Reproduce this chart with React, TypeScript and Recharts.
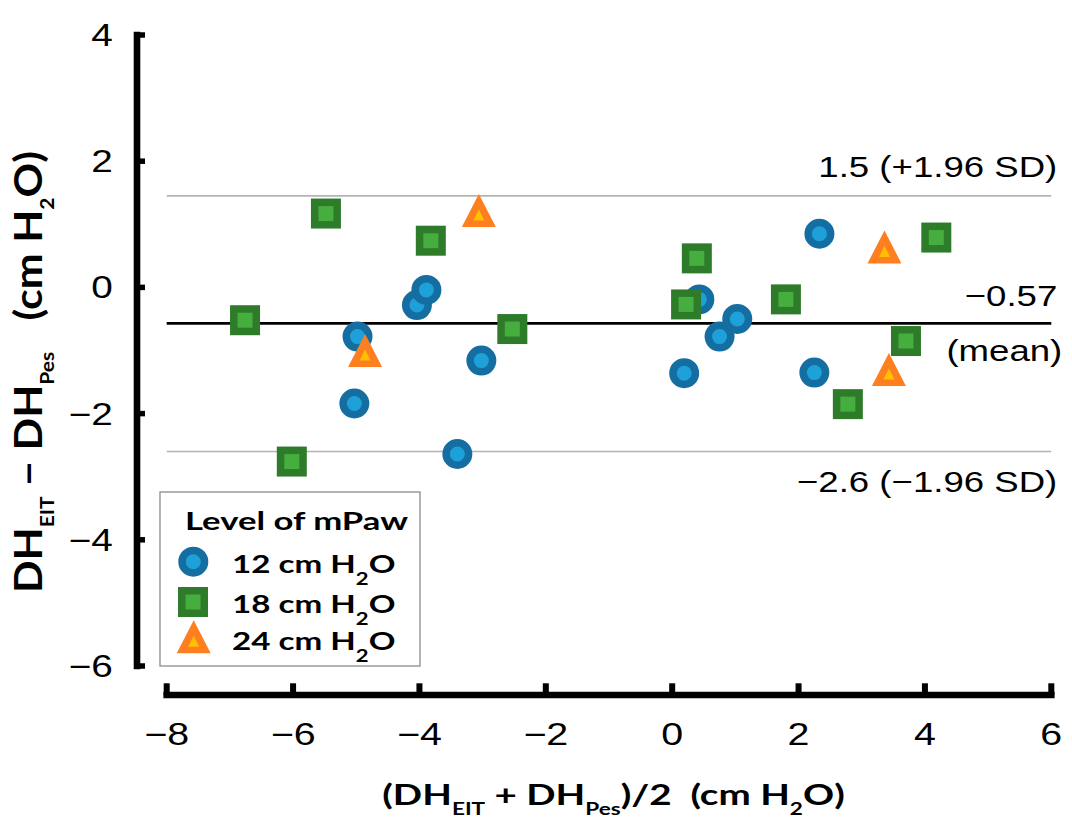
import React from 'react';
import { ScatterChart, Scatter, XAxis, YAxis, ReferenceLine, Customized } from 'recharts';

// ---------- data ----------
const xTicks = [-8, -6, -4, -2, 0, 2, 4, 6];
const yTicks = [-6, -4, -2, 0, 2, 4];

const mpaw12 = [
  { x: -5.03, y: -1.84 },
  { x: -4.98, y: -0.78 },
  { x: -4.04, y: -0.28 },
  { x: -3.89, y: -0.04 },
  { x: -3.02, y: -1.16 },
  { x: -3.4, y: -2.64 },
  { x: 0.19, y: -1.36 },
  { x: 0.43, y: -0.19 },
  { x: 0.75, y: -0.78 },
  { x: 1.03, y: -0.5 },
  { x: 2.25, y: -1.35 },
  { x: 2.33, y: 0.85 },
];

const mpaw18 = [
  { x: -6.76, y: -0.52 },
  { x: -5.48, y: 1.17 },
  { x: -6.02, y: -2.76 },
  { x: -3.82, y: 0.74 },
  { x: -2.53, y: -0.66 },
  { x: 0.22, y: -0.27 },
  { x: 0.39, y: 0.46 },
  { x: 1.8, y: -0.19 },
  { x: 2.78, y: -1.85 },
  { x: 3.7, y: -0.85 },
  { x: 4.18, y: 0.79 },
];

const mpaw24 = [
  { x: -3.06, y: 1.22 },
  { x: -4.86, y: -1.0 },
  { x: 3.36, y: 0.64 },
  { x: 3.43, y: -1.3 },
];

const meanDiff = -0.57;
const upperLoA = 1.45;
const lowerLoA = -2.6;

const upperLabel = '1.5 (+1.96 SD)';
const meanLabel = '\u22120.57';
const meanSubLabel = '(mean)';
const lowerLabel = '\u22122.6 (\u22121.96 SD)';
const legendTitle = 'Level of mPaw';
const legendLevels = ['12', '18', '24'];

// ---------- style ----------
const ARIAL = "'Liberation Sans', Arial, sans-serif";
const BOLD = "Lato, 'Open Sans', sans-serif";
const SX = 1.22;

const C_BLUE_OUT = '#156ea1';
const C_BLUE_IN = '#1ea0d9';
const C_GREEN_OUT = '#2e7c2a';
const C_GREEN_IN = '#46ad3f';
const C_OR_OUT = '#fd7f20';
const C_OR_IN = '#fec000';

const Y_AXIS_X = -8.47;
const X_AXIS_Y = -6.46;

const fmt = (v: number) => (v < 0 ? '\u2212' + Math.abs(v) : String(v));

function SText(props: any) {
  const { x, y, anchor = 'start', size = 30, weight = 'normal', family = ARIAL, sx = SX, rotate = 0, children } = props;
  const transform = rotate
    ? `translate(${x},${y}) scale(${sx},1) rotate(${rotate})`
    : `translate(${x},${y}) scale(${sx},1)`;
  return (
    <text
      transform={transform}
      textAnchor={anchor}
      fontSize={size}
      fontWeight={weight}
      fontFamily={family}
      fill="#000"
      style={{ whiteSpace: 'pre' }}
    >
      {children}
    </text>
  );
}

// ---------- markers ----------
const CircleMark = (p: any) => {
  const { cx, cy } = p;
  if (cx == null || cy == null) return null;
  return <circle cx={cx} cy={cy} r={11.25} fill={C_BLUE_IN} stroke={C_BLUE_OUT} strokeWidth={7.5} />;
};
const SquareMark = (p: any) => {
  const { cx, cy } = p;
  if (cx == null || cy == null) return null;
  return <rect x={cx - 11.25} y={cy - 11.25} width={22.5} height={22.5} fill={C_GREEN_IN} stroke={C_GREEN_OUT} strokeWidth={7.5} />;
};
const TriMark = (p: any) => {
  const { cx, cy } = p;
  if (cx == null || cy == null) return null;
  return (
    <g>
      <polygon points={`${cx},${cy - 16.5} ${cx + 17},${cy + 16.5} ${cx - 17},${cy + 16.5}`} fill={C_OR_OUT} />
      <polygon points={`${cx},${cy - 1} ${cx + 5.5},${cy + 10} ${cx - 5.5},${cy + 10}`} fill={C_OR_IN} />
    </g>
  );
};

// ---------- ticks ----------
const YTick = (p: any) => {
  const { x, y, payload } = p;
  return (
    <g>
      <rect x={x} y={y - 2.75} width={8.3} height={5.5} fill="#000" />
      <SText x={x - 24} y={y + 11} anchor="end" size={31} sx={1.25}>{fmt(payload.value)}</SText>
    </g>
  );
};
const XTick = (p: any) => {
  const { x, y, payload } = p;
  return (
    <g>
      <rect x={x - 3} y={y - 11.7} width={6} height={11.7} fill="#000" />
      <SText x={x} y={y + 50} anchor="middle" size={31} sx={1.27}>{fmt(payload.value)}</SText>
    </g>
  );
};

// ---------- reference line labels ----------
const upperLabelFn = (p: any) => {
  const vb = p.viewBox || {};
  const r = vb.x + vb.width;
  return <SText x={r + 6} y={vb.y - 19} anchor="end">{upperLabel}</SText>;
};
const meanLabelFn = (p: any) => {
  const vb = p.viewBox || {};
  const r = vb.x + vb.width;
  return (
    <g>
      <SText x={r + 6} y={vb.y - 17.5} anchor="end">{meanLabel}</SText>
      <SText x={r + 11} y={vb.y + 37.5} anchor="end">{meanSubLabel}</SText>
    </g>
  );
};
const lowerLabelFn = (p: any) => {
  const vb = p.viewBox || {};
  const r = vb.x + vb.width;
  return <SText x={r + 6} y={vb.y + 41} anchor="end">{lowerLabel}</SText>;
};

// ---------- legend & titles ----------
const H2O = (sub: number, dy: number) => [
  <tspan key="a">H</tspan>,
  <tspan key="b" dy={dy} fontSize={sub}>2</tspan>,
  <tspan key="c" dy={-dy}>O</tspan>,
];

const Overlay = () => {
  const markers = [
    <CircleMark key="m0" cx={185.3} cy={553.7} />,
    <SquareMark key="m1" cx={185} cy={594} />,
    <TriMark key="m2" cx={185.7} cy={628.7} />,
  ];
  const baselines = [565, 605, 642];
  return (
    <g>
      <rect x={152} y={484} width={260} height={174} fill="#fff" stroke="#8c8c8c" strokeWidth={1.3} />
      <SText x={177} y={522} size={25.5} weight={700} family={BOLD} sx={1.36}>{legendTitle}</SText>
      {markers}
      {legendLevels.map((lv, i) => (
        <SText key={lv} x={224} y={baselines[i]} size={25.5} weight={700} family={BOLD} sx={1.3}>
          <tspan>{lv} cm </tspan>
          {H2O(17, 12)}
        </SText>
      ))}
      {/* x axis title */}
      <SText x={605.5} y={797} anchor="middle" size={29} weight={700} family={BOLD} sx={1.33}>
        <tspan>(DH</tspan>
        <tspan dy={10} fontSize={17}>EIT</tspan>
        <tspan dy={-10}> + DH</tspan>
        <tspan dy={10} fontSize={17}>Pes</tspan>
        <tspan dy={-10}>)/2  (cm </tspan>
        {H2O(17, 10)}
        <tspan>)</tspan>
      </SText>
      {/* y axis title */}
      <SText x={34} y={364} anchor="middle" size={43} weight={700} family={BOLD} sx={0.9} rotate={-90}>
        <tspan>DH</tspan>
        <tspan dy={13} fontSize={21}>EIT</tspan>
        <tspan dy={-13}> {'\u2212'} DH</tspan>
        <tspan dy={13} fontSize={21}>Pes</tspan>
        <tspan dy={-13}>   (cm </tspan>
        {H2O(21, 13)}
        <tspan>)</tspan>
      </SText>
    </g>
  );
};

export default function App() {
  return (
    <ScatterChart
      width={1064}
      height={811}
      margin={{ top: 27, right: 20.7, bottom: 84, left: 68.7 }}
    >
      <XAxis
        type="number"
        dataKey="x"
        domain={[-8, 6]}
        ticks={xTicks}
        interval={0}
        axisLine={false}
        tickLine={false}
        tickSize={0}
        tickMargin={0}
        height={40}
        padding={{ left: 30, right: 0 }}
        tick={<XTick />}
        allowDataOverflow
      />
      <YAxis
        type="number"
        dataKey="y"
        domain={[-6, 4]}
        ticks={yTicks}
        interval={0}
        axisLine={false}
        tickLine={false}
        tickSize={0}
        tickMargin={0}
        width={60}
        padding={{ top: 0, bottom: 29 }}
        tick={<YTick />}
        allowDataOverflow
      />
      <ReferenceLine segment={[{ x: -8, y: upperLoA }, { x: 6, y: upperLoA }]} stroke="#b4b4b4" strokeWidth={1.6} ifOverflow="visible" label={upperLabelFn} />
      <ReferenceLine segment={[{ x: -8, y: lowerLoA }, { x: 6, y: lowerLoA }]} stroke="#b4b4b4" strokeWidth={1.6} ifOverflow="visible" label={lowerLabelFn} />
      <ReferenceLine segment={[{ x: -8, y: meanDiff }, { x: 6, y: meanDiff }]} stroke="#000" strokeWidth={2.6} ifOverflow="visible" label={meanLabelFn} />
      <ReferenceLine segment={[{ x: Y_AXIS_X, y: -6 }, { x: Y_AXIS_X, y: 4 }]} stroke="#000" strokeWidth={6.6} strokeLinecap="square" ifOverflow="visible" />
      <ReferenceLine segment={[{ x: -8, y: X_AXIS_Y }, { x: 6, y: X_AXIS_Y }]} stroke="#000" strokeWidth={6.6} strokeLinecap="square" ifOverflow="visible" />
      <Scatter data={mpaw12} shape={CircleMark} isAnimationActive={false} />
      <Scatter data={mpaw18} shape={SquareMark} isAnimationActive={false} />
      <Scatter data={mpaw24} shape={TriMark} isAnimationActive={false} />
      <Customized component={Overlay} />
    </ScatterChart>
  );
}
